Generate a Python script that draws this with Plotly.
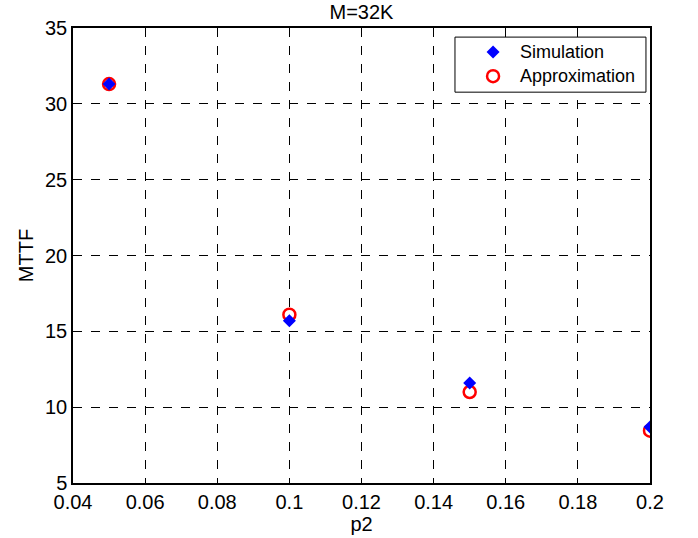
import plotly.graph_objects as go

p2 = [0.05, 0.10, 0.15, 0.20]
sim_mttf = [31.3, 15.7, 11.6, 8.7]
approx_mttf = [31.3, 16.1, 11.0, 8.45]
x_ticks = [0.04, 0.06, 0.08, 0.1, 0.12, 0.14, 0.16, 0.18, 0.2]
x_tick_text = ["0.04", "0.06", "0.08", "0.1", "0.12", "0.14", "0.16", "0.18", "0.2"]
y_ticks = [5, 10, 15, 20, 25, 30, 35]
series_names = ["Simulation", "Approximation"]

font = "Liberation Sans, Arial, sans-serif"
sim_marker = dict(symbol="diamond", size=10, color="blue", line=dict(width=0))
app_marker = dict(symbol="circle-open", size=12, color="red", line=dict(width=2.5, color="red"))

fig = go.Figure()
fig.add_trace(go.Scatter(x=p2, y=approx_mttf, mode="markers", name=series_names[1], marker=app_marker))
fig.add_trace(go.Scatter(x=p2, y=sim_mttf, mode="markers", name=series_names[0], marker=sim_marker))

# legend (drawn in a fixed 0..1 overlay frame over the plot area)
leg_x0, leg_x1, leg_y0, leg_y1 = 0.662, 0.993, 0.859, 0.980
leg_mx, leg_tx = 0.728, 0.771
leg_rows = [0.947, 0.894]
fig.add_trace(go.Scatter(x=[leg_x0, leg_x1, leg_x1, leg_x0, leg_x0],
                         y=[leg_y0, leg_y0, leg_y1, leg_y1, leg_y0],
                         mode="lines", fill="toself", fillcolor="white",
                         line=dict(color="black", width=1),
                         xaxis="x2", yaxis="y2", hoverinfo="skip"))
fig.add_trace(go.Scatter(x=[leg_mx], y=[leg_rows[0]], mode="markers", marker=sim_marker,
                         xaxis="x2", yaxis="y2", hoverinfo="skip"))
fig.add_trace(go.Scatter(x=[leg_mx], y=[leg_rows[1]], mode="markers", marker=app_marker,
                         xaxis="x2", yaxis="y2", hoverinfo="skip"))
for name, ry in zip(series_names, leg_rows):
    fig.add_annotation(x=leg_tx, y=ry, xref="x2", yref="y2", text=name, showarrow=False,
                       xanchor="left", yanchor="middle",
                       font=dict(family=font, size=18, color="black"))

axis_common = dict(
    showline=True, linecolor="black", linewidth=1.5, mirror=True,
    showgrid=True, gridcolor="black", griddash="dash", gridwidth=1,
    ticks="inside", ticklen=5, tickcolor="black",
    zeroline=False, tickfont=dict(family=font, size=20, color="black"),
)

fig.update_layout(
    xaxis=dict(range=[0.04, 0.2], tickvals=x_ticks, ticktext=x_tick_text,
               title=dict(text="p2", font=dict(family=font, size=20, color="black"), standoff=0),
               **axis_common),
    yaxis=dict(range=[5, 35], tickvals=y_ticks,
               title=dict(text="MTTF", font=dict(family=font, size=20, color="black"), standoff=6),
               **axis_common),
    xaxis2=dict(overlaying="x", range=[0, 1], visible=False, fixedrange=True),
    yaxis2=dict(overlaying="y", range=[0, 1], visible=False, fixedrange=True),
    width=698, height=538,
    margin=dict(l=73, r=48, t=28, b=55),
    paper_bgcolor="white", plot_bgcolor="white",
    title=dict(text="M=32K", x=(73 + 650) / 2 / 698, xanchor="center", y=0.977, yanchor="middle",
               font=dict(family=font, size=20, color="black")),
    showlegend=False,
)

fig.write_html("out.html")
